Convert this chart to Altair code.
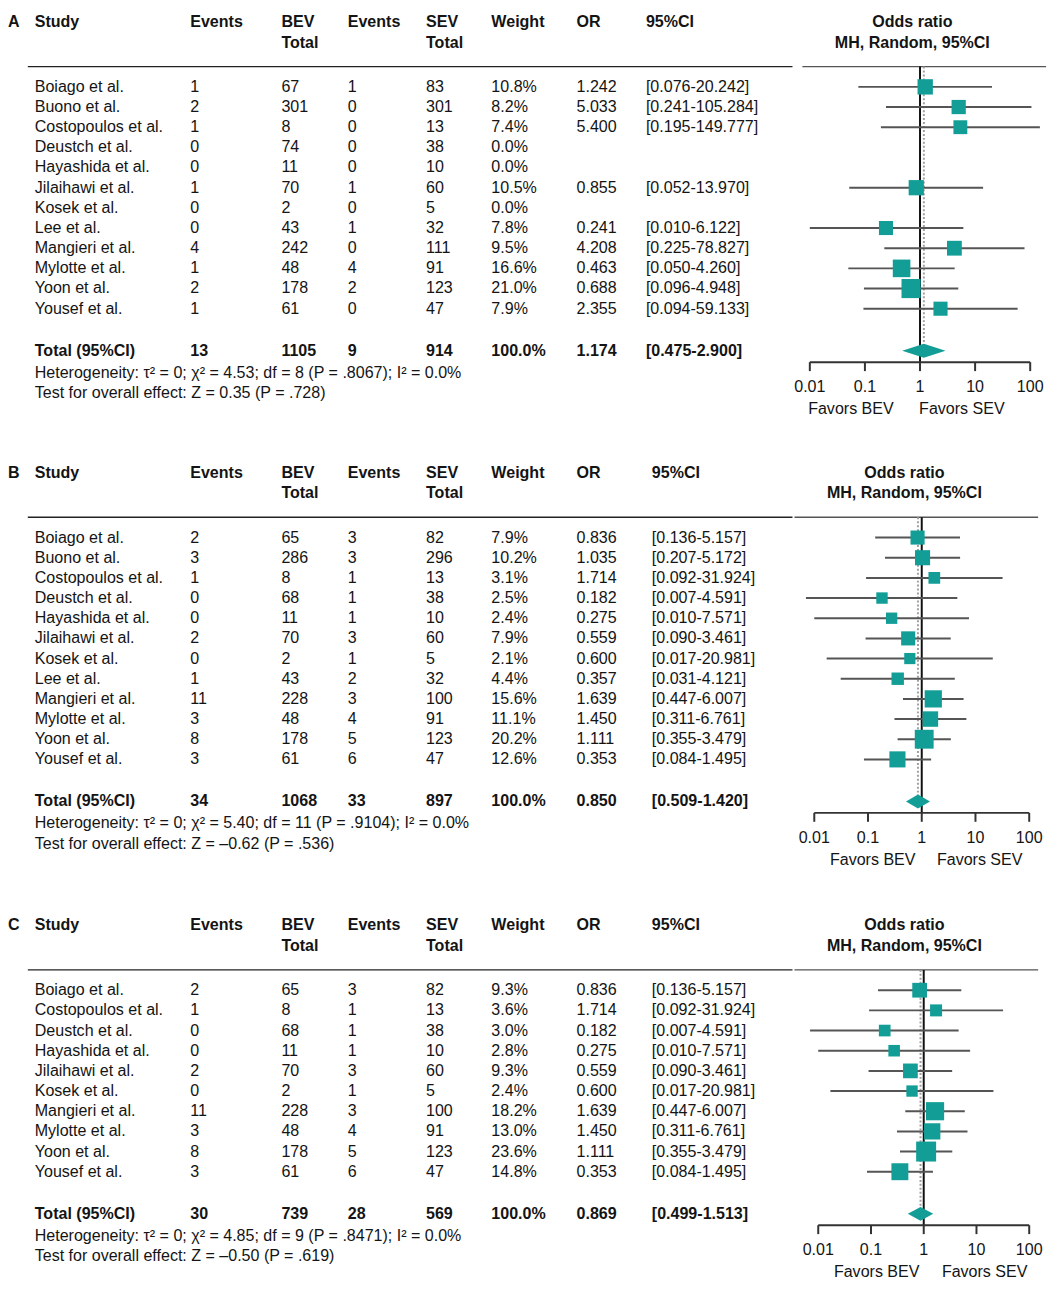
import altair as alt
import pandas as pd

# ---------------- data ----------------
studies_AB = ["Boiago et al.", "Buono et al.", "Costopoulos et al.", "Deustch et al.",
              "Hayashida et al.", "Jilaihawi et al.", "Kosek et al.", "Lee et al.",
              "Mangieri et al.", "Mylotte et al.", "Yoon et al.", "Yousef et al."]
studies_C = ["Boiago et al.", "Costopoulos et al.", "Deustch et al.", "Hayashida et al.",
             "Jilaihawi et al.", "Kosek et al.", "Mangieri et al.", "Mylotte et al.",
             "Yoon et al.", "Yousef et al."]

# Panel A
bev_ev_A = [1, 2, 1, 0, 0, 1, 0, 0, 4, 1, 2, 1]
bev_tot_A = [67, 301, 8, 74, 11, 70, 2, 43, 242, 48, 178, 61]
sev_ev_A = [1, 0, 0, 0, 0, 1, 0, 1, 0, 4, 2, 0]
sev_tot_A = [83, 301, 13, 38, 10, 60, 5, 32, 111, 91, 123, 47]
weight_A = [10.8, 8.2, 7.4, 0.0, 0.0, 10.5, 0.0, 7.8, 9.5, 16.6, 21.0, 7.9]
or_A = [1.242, 5.033, 5.400, None, None, 0.855, None, 0.241, 4.208, 0.463, 0.688, 2.355]
lo_A = [0.076, 0.241, 0.195, None, None, 0.052, None, 0.010, 0.225, 0.050, 0.096, 0.094]
hi_A = [20.242, 105.284, 149.777, None, None, 13.970, None, 6.122, 78.827, 4.260, 4.948, 59.133]
total_A = [13, 1105, 9, 914, 100.0, 1.174, 0.475, 2.900]
het_A = "Heterogeneity: \u03c4\u00b2 = 0; \u03c7\u00b2 = 4.53; df = 8 (P = .8067); I\u00b2 = 0.0%"
test_A = "Test for overall effect: Z = 0.35 (P = .728)"

# Panel B
bev_ev_B = [2, 3, 1, 0, 0, 2, 0, 1, 11, 3, 8, 3]
bev_tot_B = [65, 286, 8, 68, 11, 70, 2, 43, 228, 48, 178, 61]
sev_ev_B = [3, 3, 1, 1, 1, 3, 1, 2, 3, 4, 5, 6]
sev_tot_B = [82, 296, 13, 38, 10, 60, 5, 32, 100, 91, 123, 47]
weight_B = [7.9, 10.2, 3.1, 2.5, 2.4, 7.9, 2.1, 4.4, 15.6, 11.1, 20.2, 12.6]
or_B = [0.836, 1.035, 1.714, 0.182, 0.275, 0.559, 0.600, 0.357, 1.639, 1.450, 1.111, 0.353]
lo_B = [0.136, 0.207, 0.092, 0.007, 0.010, 0.090, 0.017, 0.031, 0.447, 0.311, 0.355, 0.084]
hi_B = [5.157, 5.172, 31.924, 4.591, 7.571, 3.461, 20.981, 4.121, 6.007, 6.761, 3.479, 1.495]
total_B = [34, 1068, 33, 897, 100.0, 0.850, 0.509, 1.420]
het_B = "Heterogeneity: \u03c4\u00b2 = 0; \u03c7\u00b2 = 5.40; df = 11 (P = .9104); I\u00b2 = 0.0%"
test_B = "Test for overall effect: Z = \u20130.62 (P = .536)"

# Panel C
bev_ev_C = [2, 1, 0, 0, 2, 0, 11, 3, 8, 3]
bev_tot_C = [65, 8, 68, 11, 70, 2, 228, 48, 178, 61]
sev_ev_C = [3, 1, 1, 1, 3, 1, 3, 4, 5, 6]
sev_tot_C = [82, 13, 38, 10, 60, 5, 100, 91, 123, 47]
weight_C = [9.3, 3.6, 3.0, 2.8, 9.3, 2.4, 18.2, 13.0, 23.6, 14.8]
or_C = [0.836, 1.714, 0.182, 0.275, 0.559, 0.600, 1.639, 1.450, 1.111, 0.353]
lo_C = [0.136, 0.092, 0.007, 0.010, 0.090, 0.017, 0.447, 0.311, 0.355, 0.084]
hi_C = [5.157, 31.924, 4.591, 7.571, 3.461, 20.981, 6.007, 6.761, 3.479, 1.495]
total_C = [30, 739, 28, 569, 100.0, 0.869, 0.499, 1.513]
het_C = "Heterogeneity: \u03c4\u00b2 = 0; \u03c7\u00b2 = 4.85; df = 9 (P = .8471); I\u00b2 = 0.0%"
test_C = "Test for overall effect: Z = \u20130.50 (P = .619)"

tick_values = [0.01, 0.1, 1, 10, 100]
tick_labels = ["0.01", "0.1", "1", "10", "100"]

# ---------------- styles / layout ----------------
FONT = "Liberation Sans"
FS = 16.2
TXT = "#141414"
TEAL = "#129e97"
CI_COLOR = "#555555"
TW = 792
FW = 252
PITCH = 20.36

COLX = {"study": 27, "bev_ev": 184, "bev_tot": 276, "sev_ev": 343,
        "sev_tot": 422, "weight": 488, "or": 574}


def fmt_or(v):
    return "" if v is None else f"{v:.3f}"


def fmt_ci(lo, hi):
    return "" if lo is None else f"[{lo:.3f}-{hi:.3f}]"


def make_panel(letter, studies, bev_ev, bev_tot, sev_ev, sev_tot, weights, ors, los, his,
               total, het, test, H, ci_x, p001, p100, fav_bev, fav_sev):
    h1, h2 = 8, 29
    line_y = 53
    first = 73.5
    n = len(studies)
    rows = [first + i * PITCH for i in range(n)]
    total_y = rows[-1] + 42.5
    het_y = total_y + 22
    test_y = total_y + 43
    axis_y = total_y + 11.5
    # ---- table ----
    reg, bold = [], []
    bold.append((0, h1, letter))
    for col, t1, t2 in [("study", "Study", ""), ("bev_ev", "Events", ""),
                        ("bev_tot", "BEV", "Total"), ("sev_ev", "Events", ""),
                        ("sev_tot", "SEV", "Total"), ("weight", "Weight", ""),
                        ("or", "OR", "")]:
        bold.append((COLX[col], h1, t1))
        if t2:
            bold.append((COLX[col], h2, t2))
    bold.append((ci_x, h1, "95%CI"))
    for i in range(n):
        y = rows[i]
        reg.append((COLX["study"], y, studies[i]))
        reg.append((COLX["bev_ev"], y, str(bev_ev[i])))
        reg.append((COLX["bev_tot"], y, str(bev_tot[i])))
        reg.append((COLX["sev_ev"], y, str(sev_ev[i])))
        reg.append((COLX["sev_tot"], y, str(sev_tot[i])))
        reg.append((COLX["weight"], y, f"{weights[i]:.1f}%"))
        reg.append((COLX["or"], y, fmt_or(ors[i])))
        reg.append((ci_x, y, fmt_ci(los[i], his[i])))
    tb = [("study", "Total (95%CI)"), ("bev_ev", str(total[0])), ("bev_tot", str(total[1])),
          ("sev_ev", str(total[2])), ("sev_tot", str(total[3])), ("weight", f"{total[4]:.1f}%"),
          ("or", f"{total[5]:.3f}")]
    for col, t in tb:
        bold.append((COLX[col], total_y, t))
    bold.append((ci_x, total_y, f"[{total[6]:.3f}-{total[7]:.3f}]"))
    reg.append((COLX["study"], het_y, het))
    reg.append((COLX["study"], test_y, test))

    xs_t = alt.Scale(domain=[0, TW], nice=False, zero=False)
    ys = alt.Scale(domain=[0, H], reverse=True, nice=False, zero=False)

    def txt(rows_, weight):
        df = pd.DataFrame(rows_, columns=["x", "y", "t"])
        return alt.Chart(df).mark_text(
            align="left", baseline="middle", font=FONT, fontSize=FS,
            fontWeight=weight, color=TXT
        ).encode(x=alt.X("x:Q", scale=xs_t, axis=None),
                 y=alt.Y("y:Q", scale=ys, axis=None),
                 text="t:N")

    tline = alt.Chart(pd.DataFrame({"x": [20], "x2": [TW], "y": [line_y]})).mark_rule(
        color="#222222", strokeWidth=1.3
    ).encode(x=alt.X("x:Q", scale=xs_t, axis=None), x2="x2:Q",
             y=alt.Y("y:Q", scale=ys, axis=None))

    table = alt.layer(txt(reg, "normal"), txt(bold, "bold"), tline).properties(width=TW, height=H)

    # ---- forest ----
    ppd = (p100 - p001) / 4.0
    d0 = 10 ** (-2 - p001 / ppd)
    d1 = 10 ** (2 + (FW - p100) / ppd)
    xs = alt.Scale(type="log", domain=[d0, d1], nice=False)
    X = lambda f: alt.X(f, scale=xs, axis=None)
    Y = lambda f: alt.Y(f, scale=ys, axis=None)

    fd = pd.DataFrame({"or": ors, "lo": los, "hi": his, "w": weights, "y": rows}).dropna()
    est, tlo, thi = total[5], total[6], total[7]
    dia_y = total_y

    head = alt.Chart(pd.DataFrame({"t": ["Odds ratio", "MH, Random, 95%CI"], "y": [h1, h2]})).mark_text(
        align="center", baseline="middle", font=FONT, fontSize=FS, fontWeight="bold", color=TXT
    ).encode(x=alt.value(111), y=Y("y:Q"), text="t:N")

    fline = alt.Chart(pd.DataFrame({"y": [line_y]})).mark_rule(
        color="#555555", strokeWidth=1.3
    ).encode(x=alt.value(0), x2=alt.value(246), y=Y("y:Q"))

    one = alt.Chart(pd.DataFrame({"x": [1], "y": [line_y], "y2": [axis_y]})).mark_rule(
        color="#111111", strokeWidth=2
    ).encode(x=X("x:Q"), y=Y("y:Q"), y2="y2:Q")

    pooled = alt.Chart(pd.DataFrame({"x": [est], "y": [line_y], "y2": [dia_y]})).mark_rule(
        color="#a0a0a0", strokeWidth=2, strokeDash=[2, 2]
    ).encode(x=X("x:Q"), y=Y("y:Q"), y2="y2:Q")

    ci = alt.Chart(fd).mark_rule(color=CI_COLOR, strokeWidth=2).encode(
        x=X("lo:Q"), x2="hi:Q", y=Y("y:Q"))

    sq = alt.Chart(fd).mark_square(color=TEAL, filled=True, opacity=1).encode(
        x=X("or:Q"), y=Y("y:Q"),
        size=alt.Size("w:Q", scale=alt.Scale(domain=[0, 24], range=[100, 412]), legend=None))

    dia = alt.Chart(pd.DataFrame({"x": [tlo, est, thi], "hh": [0, 7, 0]})).transform_calculate(
        ya=f"{dia_y} - datum.hh", yb=f"{dia_y} + datum.hh"
    ).mark_area(color=TEAL, orient="vertical", opacity=1).encode(
        x=X("x:Q"), y=Y("ya:Q"), y2="yb:Q")

    axl = alt.Chart(pd.DataFrame({"x": [0.01], "x2": [100], "y": [axis_y]})).mark_rule(
        color="#333333", strokeWidth=2
    ).encode(x=X("x:Q"), x2="x2:Q", y=Y("y:Q"))

    tdf = pd.DataFrame({"x": tick_values, "t": tick_labels, "y": axis_y,
                        "y2": axis_y + 9, "yl": axis_y + 25.5})
    ticks = alt.Chart(tdf).mark_rule(color="#333333", strokeWidth=2).encode(
        x=X("x:Q"), y=Y("y:Q"), y2="y2:Q")
    tlab = alt.Chart(tdf).mark_text(
        align="center", baseline="middle", font=FONT, fontSize=FS, color=TXT
    ).encode(x=X("x:Q"), y=Y("yl:Q"), text="t:N")

    fav = alt.Chart(pd.DataFrame({"t": ["Favors BEV"], "y": [axis_y + 47.5]})).mark_text(
        align="center", baseline="middle", font=FONT, fontSize=FS, color=TXT
    ).encode(x=alt.value(fav_bev), y=Y("y:Q"), text="t:N")
    fav2 = alt.Chart(pd.DataFrame({"t": ["Favors SEV"], "y": [axis_y + 47.5]})).mark_text(
        align="center", baseline="middle", font=FONT, fontSize=FS, color=TXT
    ).encode(x=alt.value(fav_sev), y=Y("y:Q"), text="t:N")

    forest = alt.layer(fline, one, pooled, ci, sq, dia, axl, ticks, tlab, fav, fav2, head
                       ).properties(width=FW, height=H)
    return alt.hconcat(table, forest, spacing=0)


pA = make_panel("A", studies_AB, bev_ev_A, bev_tot_A, sev_ev_A, sev_tot_A, weight_A,
                or_A, lo_A, hi_A, total_A, het_A, test_A, H=455, ci_x=644,
                p001=7.5, p100=230, fav_bev=49, fav_sev=161)
pB = make_panel("B", studies_AB, bev_ev_B, bev_tot_B, sev_ev_B, sev_tot_B, weight_B,
                or_B, lo_B, hi_B, total_B, het_B, test_B, H=457, ci_x=650,
                p001=20, p100=237, fav_bev=79, fav_sev=187)
pC = make_panel("C", studies_C, bev_ev_C, bev_tot_C, sev_ev_C, sev_tot_C, weight_C,
                or_C, lo_C, hi_C, total_C, het_C, test_C, H=366, ci_x=650,
                p001=24, p100=237, fav_bev=83, fav_sev=192)

chart = alt.vconcat(pA, pB, pC, spacing=0).properties(
    padding=0, background="white"
).configure_view(stroke=None)

chart.save("out.html", embed_options={"renderer": "svg", "actions": False})
